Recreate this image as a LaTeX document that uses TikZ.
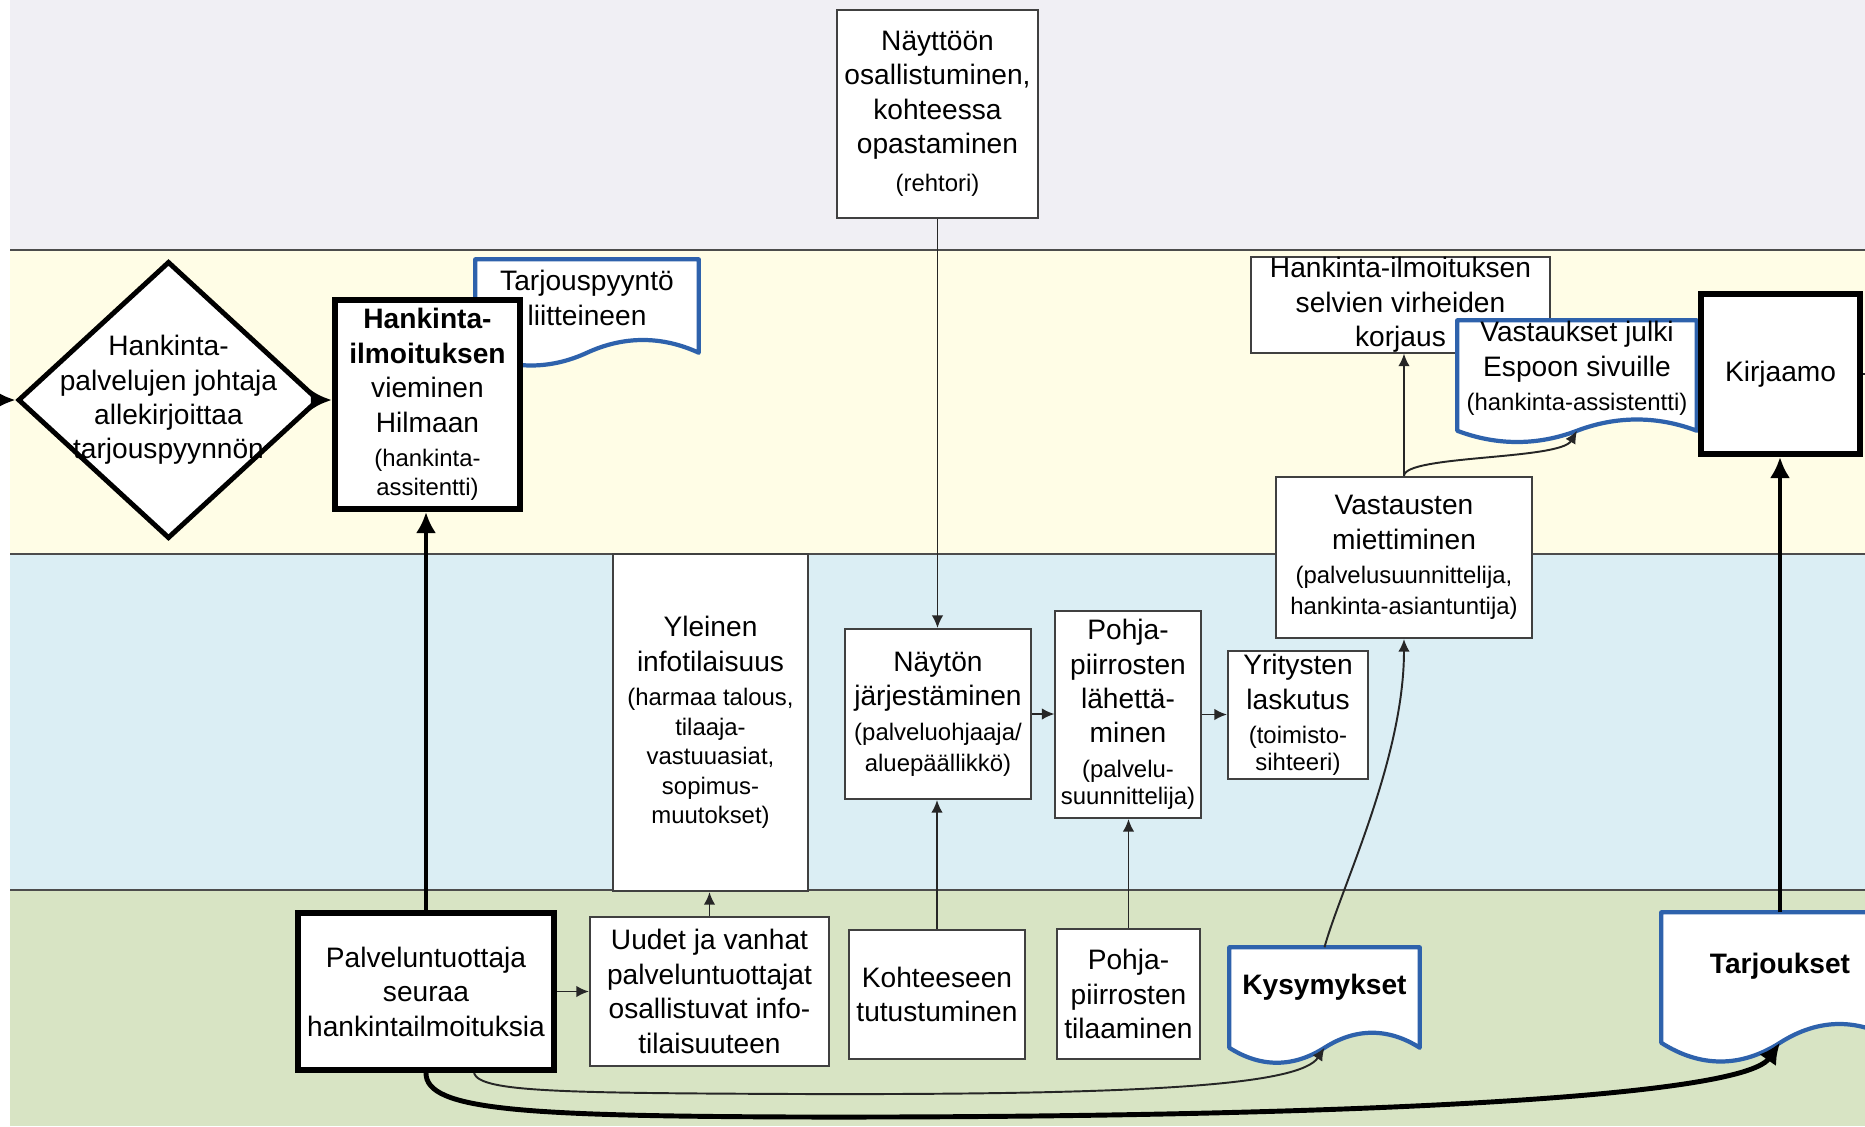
\documentclass[tikz,border=0pt]{standalone}
\usepackage{fontspec}
\setmainfont{Liberation Sans}
\usetikzlibrary{arrows.meta,shapes.geometric,calc}
\definecolor{lanegray}{RGB}{240,239,244}
\definecolor{laneyellow}{RGB}{255,253,230}
\definecolor{laneblue}{RGB}{219,238,244}
\definecolor{lanegreen}{RGB}{216,228,196}
\definecolor{docblue}{RGB}{46,98,172}
\newcommand{\smalltxt}{\fontsize{6.8}{8.2}\selectfont}
\tikzset{
  box/.style={draw=black!75,fill=white,line width=0.55pt,align=center,inner sep=1pt,font=\fontsize{8}{9.8}\selectfont},
  heavybox/.style={box,draw=black,line width=1.7pt},
  decision/.style={diamond,draw=black,fill=white,line width=1.4pt,inner sep=0pt},
  docframe/.style={inner sep=0pt},
  docline/.style={draw=docblue,fill=white,line width=1.2pt,line join=round},
  doctext/.style={align=center,inner sep=0pt,font=\fontsize{8}{9.8}\selectfont},
  flow/.style={-{Latex[length=3.6pt,width=3.3pt]},draw=black!85,line width=0.55pt},
  heavyflow/.style={-{Latex[length=6pt,width=5.8pt]},draw=black,line width=1.4pt},
  laneline/.style={draw=black!70,line width=0.6pt}
}
\newcommand{\docnode}[7]{%
  \node[docframe,minimum width=#3,minimum height=#4] (#1) at (#2) {};
  \draw[docline] (#1.south west) -- (#1.north west) -- (#1.north east) -- (#1.south east)
    .. controls ($(#1.south east)!0.33!(#1.south)+(0,-#5)$) and ($(#1.south east)!0.67!(#1.south)+(0,-#5)$) .. (#1.south)
    .. controls ($(#1.south)!0.33!(#1.south west)+(0,#5)$) and ($(#1.south)!0.67!(#1.south west)+(0,#5)$) .. (#1.south west) -- cycle;
  \node[doctext] (#1-txt) at ($(#1.center)+(0,#6)$) {#7};
}

\begin{document}
\begin{tikzpicture}[x=0.01cm,y=-0.01cm]
    \useasboundingbox (0,0) rectangle (1865,1126);
    \clip (0,0) rectangle (1865,1126);
    \fill[lanegray] (10,0) rectangle (1865,250);
    \fill[laneyellow] (10,250) rectangle (1865,554);
    \fill[laneblue] (10,554) rectangle (1865,890);
    \fill[lanegreen] (10,890) rectangle (1865,1126);
    \foreach \y in {250,554,890} \draw[laneline] (10,\y) -- (1865,\y);

    \node[box,minimum width=2.01cm,minimum height=2.08cm] (naytto) at (937.5,114) {Näyttöön\\osallistuminen,\\kohteessa\\opastaminen\\[1pt]{\smalltxt (rehtori)}};

    \node[decision,minimum width=3.01cm,minimum height=2.77cm] (johtaja) at (168.5,400) {};
    \node[box,draw=none,fill=none] (johtaja-txt) at (johtaja) {Hankinta-\\palvelujen johtaja\\allekirjoittaa\\tarjouspyynnön};
    \docnode{pyynto}{587,306}{2.22cm}{0.92cm}{17}{-8}{Tarjouspyyntö\\liitteineen}
    \node[heavybox,minimum width=1.85cm,minimum height=2.09cm] (hilma) at (427.5,404.5) {\textbf{Hankinta-}\\\textbf{ilmoituksen}\\vieminen\\Hilmaan\\{\smalltxt (hankinta-}\\[-1.5pt]{\smalltxt assitentti)}};
    \node[box,minimum width=2.99cm,minimum height=0.94cm,inner sep=0pt] (korjaus) at (1400.5,305) {Hankinta-ilmoituksen\\selvien virheiden\\korjaus};
    \docnode{julki}{1577,375.5}{2.38cm}{1.09cm}{15}{-7}{Vastaukset julki\\Espoon sivuille\\{\smalltxt (hankinta-assistentti)}}
    \node[heavybox,minimum width=1.59cm,minimum height=1.6cm] (kirjaamo) at (1780.5,374) {Kirjaamo};

    \node[box,minimum width=2.56cm,minimum height=1.61cm] (vastaus) at (1404,557.5) {Vastausten\\miettiminen\\{\smalltxt (palvelusuunnittelija,}\\[-1pt]{\smalltxt hankinta-asiantuntija)}};
    \node[box,minimum width=1.95cm,minimum height=3.37cm] (infotilaisuus) at (710.5,722.5) {Yleinen\\infotilaisuus\\{\smalltxt (harmaa talous,}\\[-1.4pt]{\smalltxt tilaaja-}\\[-1.4pt]{\smalltxt vastuuasiat,}\\[-1.4pt]{\smalltxt sopimus-}\\[-1.4pt]{\smalltxt muutokset)}};
    \node[box,minimum width=1.86cm,minimum height=1.7cm] (nayton) at (938,714) {Näytön\\järjestäminen\\{\smalltxt (palveluohjaaja/}\\[-1pt]{\smalltxt aluepäällikkö)}};
    \node[box,minimum width=1.45cm,minimum height=2.07cm] (lahetys) at (1128,714.5) {Pohja-\\piirrosten\\lähettä-\\minen\\{\smalltxt (palvelu-}\\[-2pt]{\smalltxt suunnittelija)}};
    \node[box,minimum width=1.4cm,minimum height=1.26cm] (laskutus) at (1298,715) {Yritysten\\laskutus\\{\smalltxt (toimisto-}\\[-2pt]{\smalltxt sihteeri)}};

    \node[heavybox,minimum width=2.56cm,minimum height=1.57cm] (palvelu) at (426,991.5) {Palveluntuottaja\\seuraa\\hankintailmoituksia};
    \node[box,minimum width=2.39cm,minimum height=1.49cm] (uudet) at (709.5,991.5) {Uudet ja vanhat\\palveluntuottajat\\osallistuvat info-\\tilaisuuteen};
    \node[box,minimum width=1.76cm,minimum height=1.29cm] (kohde) at (937,994.5) {Kohteeseen\\tutustuminen};
    \node[box,minimum width=1.43cm,minimum height=1.3cm] (tilaus) at (1128.5,994) {Pohja-\\piirrosten\\tilaaminen};
    \docnode{kysymys}{1324.5,997.5}{1.89cm}{0.99cm}{20}{-10}{\textbf{Kysymykset}}
    \docnode{tarjous}{1780,977.5}{2.36cm}{1.29cm}{25}{-11}{\textbf{Tarjoukset}}

    \coordinate (inL) at (0,400);
    \coordinate (outR) at (1900,374);
    \draw[heavyflow] (inL) -- (johtaja.west);
    \draw[heavyflow] (johtaja.east) -- (johtaja.east -| hilma.west);
    \draw[heavyflow] (palvelu.north) -- (palvelu.north |- hilma.south);
    \draw[flow] (palvelu.east) -- (uudet.west);
    \draw[flow] (uudet.north) -- (uudet.north |- infotilaisuus.south);
    \draw[flow] (naytto.south) -- (naytto.south |- nayton.north);
    \draw[flow] (kohde.north) -- (kohde.north |- nayton.south);
    \draw[flow] (nayton.east) -- (nayton.east -| lahetys.west);
    \draw[flow] (lahetys.east) -- (lahetys.east -| laskutus.west);
    \draw[flow] (tilaus.north) -- (tilaus.north |- lahetys.south);
    \draw[flow] (kysymys.north) .. controls (1340,890) and (1404,760) .. (vastaus.south);
    \draw[flow] (vastaus.north) -- (vastaus.north |- korjaus.south);
    \draw[flow] (vastaus.north) .. controls (1404,455) and (1560,460) .. (julki.south);
    \draw[heavyflow] (tarjous.north) -- (tarjous.north |- kirjaamo.south);
    \draw[flow] (kirjaamo.east) -- (outR);
    \draw[heavyflow] (palvelu.south) .. controls (426,1110) and (520,1116) .. (800,1117) .. controls (1300,1118) and (1740,1100) .. (tarjous.south);
    \draw[flow] ($(palvelu.south)+(48,0)$) .. controls (480,1092) and (560,1093) .. (800,1094) .. controls (1150,1095) and (1300,1085) .. (kysymys.south);
\end{tikzpicture}
\end{document}
